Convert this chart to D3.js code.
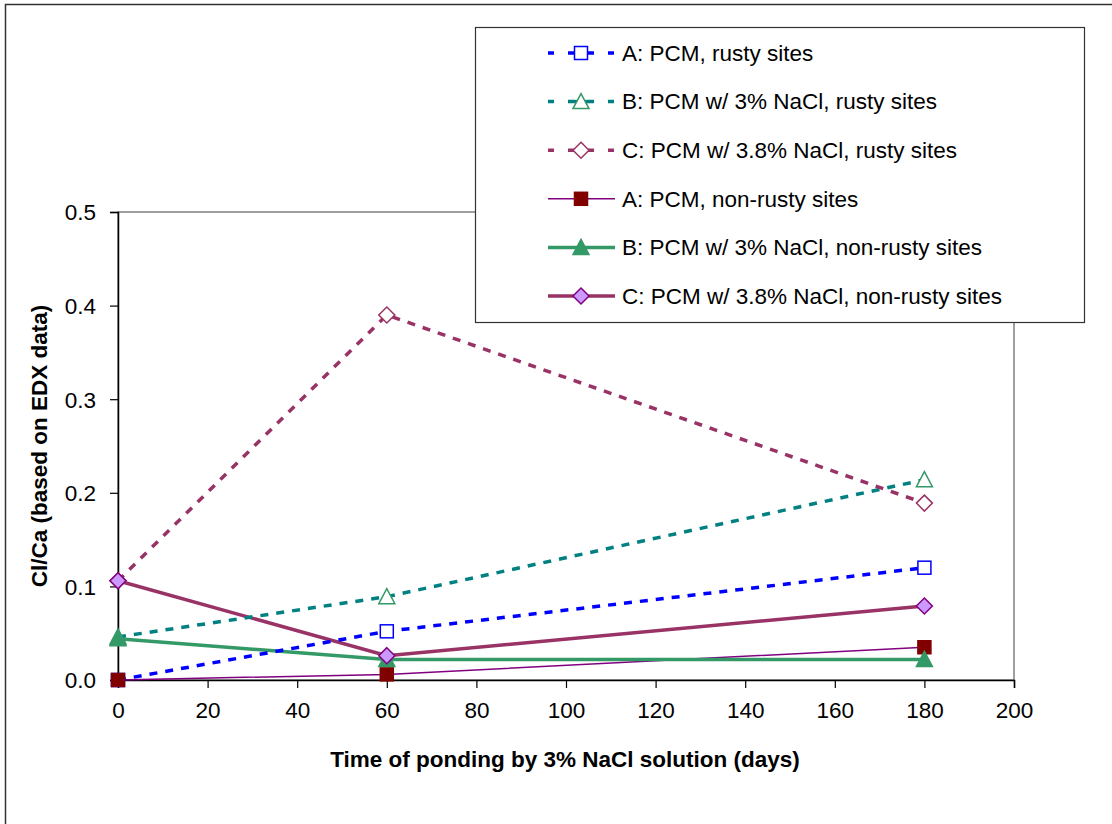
<!DOCTYPE html>
<style>
    body, html { margin: 0; padding: 0; background: #fff; overflow: hidden; }
    text { font-family: "Liberation Sans", Arial, sans-serif; }
</style>
<svg width="1112" height="824"></svg>
<script src="https://d3js.org/d3.v7.min.js"></script>
<script>
    var days = [0, 60, 180];
    var aRusty = [0.0, 0.052, 0.120];
    var bRusty = [0.046, 0.089, 0.214];
    var cRusty = [0.106, 0.390, 0.189];
    var aNon = [0.0, 0.006, 0.035];
    var bNon = [0.044, 0.022, 0.022];
    var cNon = [0.106, 0.026, 0.079];
    var xTicks = [0, 20, 40, 60, 80, 100, 120, 140, 160, 180, 200];
    var yTicks = [0, 0.1, 0.2, 0.3, 0.4, 0.5];

    var series = [
        { name: "A: PCM, rusty sites", vals: aRusty, line: "#0000ff", dash: "8,8", w: 3.5, mark: "square", mStroke: "#0000ff", mFill: "#fff" },
        { name: "B: PCM w/ 3% NaCl, rusty sites", vals: bRusty, line: "#008080", dash: "8,8", w: 3.5, mark: "triangle", mStroke: "#339966", mFill: "#fff" },
        { name: "C: PCM w/ 3.8% NaCl, rusty sites", vals: cRusty, line: "#993366", dash: "8,8", w: 3.5, mark: "diamond", mStroke: "#993366", mFill: "#fff" },
        { name: "A: PCM, non-rusty sites", vals: aNon, line: "#800080", dash: null, w: 1.5, mark: "square", mStroke: "#800000", mFill: "#800000" },
        { name: "B: PCM w/ 3% NaCl, non-rusty sites", vals: bNon, line: "#339966", dash: null, w: 3.5, mark: "triangle", mStroke: "#339966", mFill: "#339966" },
        { name: "C: PCM w/ 3.8% NaCl, non-rusty sites", vals: cNon, line: "#993366", dash: null, w: 3.5, mark: "diamond", mStroke: "#800080", mFill: "#cc99ff" }
    ];

    var svg = d3.select("svg");
    var pLeft = 118, pRight = 1014, pTop = 212, pBottom = 680;
    var fs = 22.5;
    var x = d3.scaleLinear().domain([0, 200]).range([pLeft, pRight]);
    var y = d3.scaleLinear().domain([0, 0.5]).range([pBottom, pTop]);

    // outer frame
    svg.append("rect").attr("x", 5.5).attr("y", 4.5).attr("width", 1120).attr("height", 840)
        .attr("fill", "none").attr("stroke", "#333").attr("stroke-width", 1.5);

    // plot area frame
    svg.append("rect").attr("x", pLeft).attr("y", pTop).attr("width", pRight - pLeft).attr("height", pBottom - pTop)
        .attr("fill", "none").attr("stroke", "#808080").attr("stroke-width", 1.5);

    var xAxis = svg.append("g").attr("transform", "translate(0," + pBottom + ")")
        .call(d3.axisBottom(x).tickValues(xTicks).tickSize(8).tickPadding(14).tickFormat(d3.format("d")));
    var yAxis = svg.append("g").attr("transform", "translate(" + pLeft + ",0)")
        .call(d3.axisLeft(y).tickValues(yTicks).tickSize(8).tickPadding(14).tickFormat(d3.format(".1f")));
    [xAxis, yAxis].forEach(function (a) {
        a.select(".domain").attr("stroke", "#000").attr("stroke-width", 1.5);
        a.selectAll(".tick line").attr("stroke", "#000").attr("stroke-width", 1.2);
        a.selectAll("text").attr("font-size", fs).attr("fill", "#000")
            .style("font-family", "'Liberation Sans', Arial, sans-serif");
    });
    yAxis.selectAll("text").attr("dy", "0.35em");

    svg.append("text").attr("x", (pLeft + pRight) / 2 - 1).attr("y", 767).attr("text-anchor", "middle")
        .attr("font-size", fs).attr("font-weight", "bold").text("Time of ponding by 3% NaCl solution (days)");
    svg.append("text").attr("transform", "translate(47," + (pTop + pBottom) / 2 + ") rotate(-90)")
        .attr("text-anchor", "middle").attr("font-size", fs).attr("font-weight", "bold")
        .text("Cl/Ca (based on EDX data)");

    function drawMark(g, s, cx, cy) {
        if (s.mark === "square") {
            g.append("rect").attr("x", cx - 6.5).attr("y", cy - 6.5).attr("width", 13).attr("height", 13)
                .attr("fill", s.mFill).attr("stroke", s.mStroke).attr("stroke-width", 1.5);
        } else if (s.mark === "triangle") {
            g.append("path").attr("d", "M" + cx + "," + (cy - 8) + "L" + (cx + 8) + "," + (cy + 7) + "L" + (cx - 8) + "," + (cy + 7) + "Z")
                .attr("fill", s.mFill).attr("stroke", s.mStroke).attr("stroke-width", 1.5);
        } else {
            g.append("path").attr("d", "M" + cx + "," + (cy - 8) + "L" + (cx + 8) + "," + cy + "L" + cx + "," + (cy + 8) + "L" + (cx - 8) + "," + cy + "Z")
                .attr("fill", s.mFill).attr("stroke", s.mStroke).attr("stroke-width", 1.5);
        }
    }

    var line = d3.line().x(function (d, i) { return x(days[i]); }).y(function (d) { return y(d); });
    var order = [3, 4, 5, 0, 1, 2];
    order.forEach(function (k) {
        var s = series[k];
        svg.append("path").datum(s.vals).attr("d", line).attr("fill", "none")
            .attr("stroke", s.line).attr("stroke-width", s.w)
            .attr("stroke-dasharray", s.dash);
    });
    series.forEach(function (s) {
        var g = svg.append("g");
        s.vals.forEach(function (v, i) { drawMark(g, s, x(days[i]), y(v)); });
    });

    // legend
    var lg = svg.append("g");
    lg.append("rect").attr("x", 475.5).attr("y", 27.5).attr("width", 609).attr("height", 295)
        .attr("fill", "#fff").attr("stroke", "#333").attr("stroke-width", 1.2);
    series.forEach(function (s, i) {
        var cy = 53 + i * 48.6;
        lg.append("line").attr("x1", 548).attr("x2", 615).attr("y1", cy).attr("y2", cy)
            .attr("stroke", s.line).attr("stroke-width", s.w)
            .attr("stroke-dasharray", s.dash ? "6,14,6,14" : null);
        if (s.dash) {
            lg.append("line").attr("x1", 574).attr("x2", 588).attr("y1", cy).attr("y2", cy)
                .attr("stroke", s.line).attr("stroke-width", s.w);
        }
        drawMark(lg, s, 581, cy);
        lg.append("text").attr("x", 622).attr("y", cy).attr("dy", "0.35em")
            .attr("font-size", fs).text(s.name);
    });
</script>
